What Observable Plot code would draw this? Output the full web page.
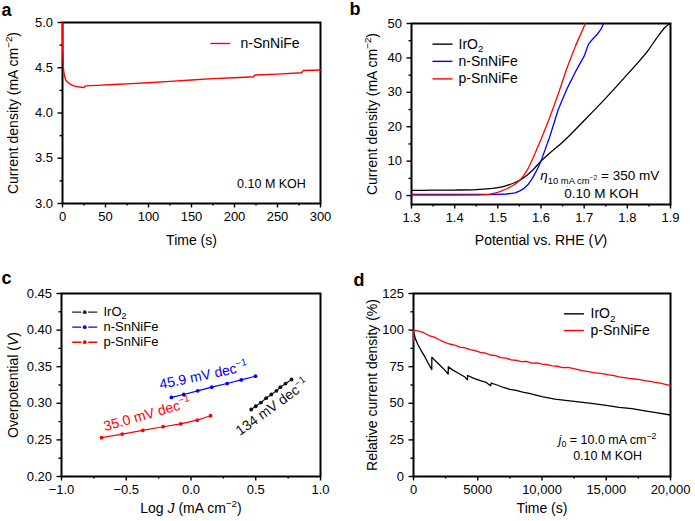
<!DOCTYPE html>
<html><head><meta charset="utf-8">
<script src="https://cdn.jsdelivr.net/npm/d3@7"></script>
<script src="https://cdn.jsdelivr.net/npm/@observablehq/plot@0.6"></script>
<style>
body{margin:0;background:#fff;}
#wrap{position:relative;width:695px;height:521px;background:#fff;overflow:hidden;}
.panel{position:absolute;}
</style></head><body><div id="wrap"></div>
<script>
// ---------- DATA ----------
// Panel a: chronoamperometry n-SnNiFe
const A_time = [0,0.3,1,2,4,6,9,13,18,25,26,27,40,60,80,100,125,150,175,200,222,224,250,278,280,300];
const A_j    = [5.0,4.7,4.5,4.42,4.36,4.34,4.32,4.30,4.29,4.28,4.295,4.30,4.305,4.315,4.325,4.335,4.35,4.365,4.38,4.39,4.40,4.42,4.43,4.445,4.47,4.475];
// Panel b: polarization curves
const B_V_ir = [1.30,1.35,1.40,1.45,1.48,1.50,1.52,1.54,1.56,1.58,1.60,1.62,1.65,1.70,1.75,1.80,1.85,1.875,1.89,1.90];
const B_J_ir = [1.5,1.55,1.6,1.75,2.0,2.3,2.9,3.8,5.2,7.3,10.0,12.3,15.5,21.8,28.3,35.2,42.5,47.0,49.2,50];
const B_V_n  = [1.30,1.45,1.50,1.52,1.54,1.55,1.56,1.57,1.58,1.59,1.60,1.62,1.64,1.66,1.68,1.70,1.71,1.72,1.73,1.74,1.745];
const B_J_n  = [0.3,0.3,0.35,0.45,0.8,1.3,2.0,3.2,5.0,7.3,10.0,17.0,25.0,31.0,36.0,40.5,44.0,45.5,46.8,48.6,50];
const B_V_p  = [1.30,1.40,1.46,1.48,1.50,1.52,1.54,1.55,1.56,1.57,1.58,1.60,1.62,1.64,1.66,1.68,1.70,1.703];
const B_J_p  = [0.1,0.12,0.2,0.35,0.9,1.9,3.3,4.3,5.8,7.8,10.5,16.3,22.6,29.5,37.0,43.5,49.2,50];
// Panel c: Tafel
const C_logJ_ir = [0.465,0.50,0.54,0.58,0.62,0.66,0.69,0.73,0.776];
const C_eta_ir  = [0.2915,0.296,0.301,0.307,0.312,0.317,0.322,0.327,0.3325];
const C_logJ_n  = [-0.151,-0.056,0.052,0.160,0.279,0.388,0.498];
const C_eta_n   = [0.308,0.312,0.317,0.322,0.327,0.332,0.337];
const C_logJ_p  = [-0.691,-0.531,-0.373,-0.215,-0.079,0.048,0.151];
const C_eta_p   = [0.253,0.258,0.263,0.268,0.272,0.277,0.283];
// Panel d: stability
const D_t_ir = [0,150,350,600,900,1200,1420,1430,1700,2000,2400,2700,2710,3000,3500,4000,4200,4210,4700,5200,5600,6000,6050,6500,7000,7500,8000,8500,9000,10000,11000,12000,13000,14000,15000,16000,17000,18000,19000,20000];
const D_r_ir = [99,94,90,86,81.5,76.5,73,81.5,79,76.5,73,70,75,73,70.5,68,66,69,67,65.5,64.5,62,63.8,62.5,60.8,59.5,58.8,57.7,56.8,54.5,52.8,51.8,50.8,49.8,48.6,47.2,46.3,44.8,43.4,42];
const D_t_p = [0,0,400,800,1200,1600,2000,2400,2800,3200,3600,4000,4400,4800,5200,5600,6000,6400,6800,7200,7600,8000,8400,8800,9200,9600,10000,10400,10800,11200,11600,12000,12400,12800,13200,13600,14000,14400,14800,15200,15600,16000,16400,16800,17200,17600,18000,18400,18800,19200,19600,20000];
const D_r_p = [92,100,99.3,98.2,96.3,95.2,93.4,91.8,90.5,89.7,88.4,87.9,86.6,86.0,84.8,84.3,83.0,82.6,81.2,80.9,79.6,79.4,78.4,78.6,77.5,77.6,76.8,76.4,75.6,75.3,74.4,74.6,73.8,73.0,72.2,71.7,71.0,70.6,70.1,69.4,68.9,68.1,67.6,67.0,66.6,66.2,65.5,65.0,64.3,63.8,62.9,62.0];

// Tick values
const A_xMaj = [0,50,100,150,200,250,300], A_xMin = [25,75,125,175,225,275];
const A_yMaj = [3.0,3.5,4.0,4.5,5.0], A_yMin = [3.25,3.75,4.25,4.75];
const B_xMaj = [1.3,1.4,1.5,1.6,1.7,1.8,1.9], B_xMin = [1.35,1.45,1.55,1.65,1.75,1.85];
const B_yMaj = [0,10,20,30,40,50], B_yMin = [5,15,25,35,45];
const C_xMaj = [-1.0,-0.5,0.0,0.5,1.0], C_xMin = [-0.75,-0.25,0.25,0.75];
const C_yMaj = [0.20,0.25,0.30,0.35,0.40,0.45], C_yMin = [0.225,0.275,0.325,0.375,0.425];
const D_xMaj = [0,5000,10000,15000,20000], D_xMin = [2500,7500,12500,17500];
const D_yMaj = [0,25,50,75,100,125], D_yMin = [12.5,37.5,62.5,87.5,112.5];

// Series names / colours
const RED = "#ff0000", BLUE = "#0000ff", BLACK = "#000000";
const names = ["IrO_{2}", "n-SnNiFe", "p-SnNiFe"];

// ---------- helpers ----------
const FONT = '"Liberation Sans", Arial, Helvetica, sans-serif';
function axes(xMaj, xMin, xFmt, yMaj, yMin, yFmt) {
  const common = {strokeWidth: 1.4, label: null, fontSize: 13};
  return [
    Plot.axisX({...common, ticks: xMaj, tickFormat: xFmt, tickSize: 4.5, tickPadding: 4}),
    Plot.axisX({...common, ticks: xMin, tickFormat: () => "", tickSize: 2.5}),
    Plot.axisY({...common, ticks: yMaj, tickFormat: yFmt, tickSize: 4.5, tickPadding: 5}),
    Plot.axisY({...common, ticks: yMin, tickFormat: () => "", tickSize: 2.5}),
    Plot.frame({strokeWidth: 2, stroke: "black"})
  ];
}
function label(txt, opts) {
  return Plot.text([txt], {text: d => d, fill: "black", textAnchor: "middle", lineAnchor: "middle", ...opts});
}

function parseMarkup(s) {
  const segs = [], stack = [{shift: 0, scale: 1}];
  let italic = false, buf = "";
  const flush = () => { if (buf) { const t = stack[stack.length-1]; segs.push({text: buf, shift: t.shift, scale: t.scale, italic}); buf = ""; } };
  for (let i = 0; i < s.length; i++) {
    const c = s[i];
    if ((c === "^" || c === "_") && s[i+1] === "{") {
      flush(); const t = stack[stack.length-1];
      stack.push({shift: t.shift + (c === "^" ? -0.42 : 0.24) * t.scale, scale: t.scale * 0.7}); i++;
    } else if (c === "}") { flush(); stack.pop(); }
    else if (c === "*") { flush(); italic = !italic; }
    else buf += c;
  }
  flush();
  return segs;
}
function applyMarkup(svg) {
  svg.querySelectorAll("text").forEach(t => {
    const s = t.textContent;
    if (!/[\^_*]/.test(s) || t.querySelector("tspan")) return;
    const fs = parseFloat(getComputedStyle(t).fontSize);
    const segs = parseMarkup(s);
    t.textContent = "";
    let prev = 0;
    for (const sg of segs) {
      const ts = document.createElementNS("http://www.w3.org/2000/svg", "tspan");
      ts.textContent = sg.text;
      ts.setAttribute("font-size", (fs * sg.scale).toFixed(2) + "px");
      const dy = (sg.shift - prev) * fs;
      if (Math.abs(dy) > 1e-6) ts.setAttribute("dy", dy.toFixed(2));
      prev = sg.shift;
      if (sg.italic) ts.setAttribute("font-style", "italic");
      t.appendChild(ts);
    }
  });
}
const wrap = document.getElementById("wrap");
function panel(pos, opts) {
  const svg = Plot.plot({
    width: pos.width, height: pos.height,
    marginLeft: pos.ml, marginRight: pos.mr, marginTop: pos.mt, marginBottom: pos.mb,
    style: {fontFamily: FONT, fontSize: "13px", color: "black", background: "white", overflow: "visible"},
    ...opts
  });
  const div = document.createElement("div");
  div.className = "panel";
  div.style.left = pos.left + "px"; div.style.top = pos.top + "px";
  div.appendChild(svg);
  wrap.appendChild(div);
  applyMarkup(svg);
}
const f1 = d3.format(".1f"), f2 = d3.format(".2f");
const fBig = d => d >= 10000 ? d3.format(",")(d) : String(d);

// ---------- Panel a ----------
panel({left: 0, top: 0, width: 347, height: 260, ml: 62, mr: 27, mt: 22, mb: 57}, {
  x: {domain: [0, 300]}, y: {domain: [3, 5]},
  marks: [
    ...axes(A_xMaj, A_xMin, d => String(d), A_yMaj, A_yMin, f1),
    Plot.line(A_time, {x: A_time, y: A_j, stroke: RED, strokeWidth: 1.4}),
    Plot.link([names[1]], {x1: 172, x2: 195, y1: 4.768, y2: 4.768, stroke: RED, strokeWidth: 1.4}),
    Plot.text([names[1]], {x: 207, y: 4.768, text: d => d, textAnchor: "start", fontSize: 14}),
    Plot.text(["0.10 M KOH"], {x: 243, y: 3.21, text: d => d, fontSize: 12.5}),
    label("Current density (mA cm^{−2})", {frameAnchor: "left", dx: -49, rotate: -90, fontSize: 14}),
    label("Time (s)", {frameAnchor: "bottom", dy: 37, fontSize: 14}),
    label("a", {frameAnchor: "top-left", dx: -61, dy: -12, textAnchor: "start", fontSize: 18, fontWeight: "bold"})
  ]
});

// ---------- Panel b ----------
panel({left: 347, top: 0, width: 348, height: 260, ml: 64, mr: 25, mt: 23, mb: 56}, {
  x: {domain: [1.3, 1.9]}, y: {domain: [-2.6, 50]},
  marks: [
    ...axes(B_xMaj, B_xMin, f1, B_yMaj, B_yMin, d => String(d)),
    Plot.line(B_V_ir, {x: B_V_ir, y: B_J_ir, stroke: BLACK, strokeWidth: 1.3, curve: "monotone-x"}),
    Plot.line(B_V_n, {x: B_V_n, y: B_J_n, stroke: BLUE, strokeWidth: 1.3}),
    Plot.line(B_V_p, {x: B_V_p, y: B_J_p, stroke: RED, strokeWidth: 1.3}),
    Plot.link(names, {x1: 1.3486, x2: 1.395, y1: [44.0, 39.0, 33.9], y2: [44.0, 39.0, 33.9], stroke: [BLACK, BLUE, RED], strokeWidth: 1.4}),
    Plot.text(names, {x: 1.409, y: [44.0, 39.0, 33.9], text: d => d, textAnchor: "start", fontSize: 14}),
    Plot.text(["*η*_{10 mA cm^{−2}} = 350 mV"], {x: 1.736, y: 5.7, text: d => d, fontSize: 13.5}),
    Plot.text(["0.10 M KOH"], {x: 1.74, y: 0.6, text: d => d, fontSize: 13.5}),
    label("Current density (mA cm^{−2})", {frameAnchor: "left", dx: -39, rotate: -90, fontSize: 14}),
    label("Potential vs. RHE (*V*)", {frameAnchor: "bottom", dy: 36, fontSize: 14}),
    label("b", {frameAnchor: "top-left", dx: -62, dy: -14, textAnchor: "start", fontSize: 18, fontWeight: "bold"})
  ]
});

// ---------- Panel c ----------
const legC_y = [0.4245, 0.404, 0.3835], legC_c = ["#222", BLUE, RED];
panel({left: 0, top: 260, width: 347, height: 261, ml: 61, mr: 27, mt: 33, mb: 45}, {
  x: {domain: [-1, 1]}, y: {domain: [0.20, 0.45]},
  marks: [
    ...axes(C_xMaj, C_xMin, f1, C_yMaj, C_yMin, f2),
    Plot.line(C_logJ_ir, {x: C_logJ_ir, y: C_eta_ir, stroke: "#222", strokeWidth: 1.2}),
    Plot.dot(C_logJ_ir, {x: C_logJ_ir, y: C_eta_ir, fill: "#111", r: 1.9}),
    Plot.line(C_logJ_n, {x: C_logJ_n, y: C_eta_n, stroke: BLUE, strokeWidth: 1.2}),
    Plot.dot(C_logJ_n, {x: C_logJ_n, y: C_eta_n, fill: BLUE, r: 1.9}),
    Plot.line(C_logJ_p, {x: C_logJ_p, y: C_eta_p, stroke: RED, strokeWidth: 1.2}),
    Plot.dot(C_logJ_p, {x: C_logJ_p, y: C_eta_p, fill: RED, r: 1.9}),
    Plot.link(names, {x1: -0.917, x2: -0.724, y1: legC_y, y2: legC_y, stroke: legC_c, strokeWidth: 1.4, strokeDasharray: "9,7"}),
    Plot.dot(names, {x: -0.8205, y: legC_y, fill: legC_c, r: 1.9}),
    Plot.text(names, {x: -0.676, y: legC_y, text: d => d, textAnchor: "start", fontSize: 13}),
    Plot.text(["45.9 mV dec^{−1}"], {x: 0.097, y: 0.338, text: d => d, fill: BLUE, rotate: -12, fontSize: 14}),
    Plot.text(["35.0 mV dec^{−1}"], {x: -0.338, y: 0.2847, text: d => d, fill: RED, rotate: -16, fontSize: 14}),
    Plot.text(["134 mV dec^{−1}"], {x: 0.627, y: 0.2947, text: d => d, fill: "#111", rotate: -36, fontSize: 14}),
    label("Overpotential (*V*)", {frameAnchor: "left", dx: -48, rotate: -90, fontSize: 14}),
    label("Log *J* (mA cm^{−2})", {frameAnchor: "bottom", dy: 32, fontSize: 14}),
    label("c", {frameAnchor: "top-left", dx: -60, dy: -15, textAnchor: "start", fontSize: 18, fontWeight: "bold"})
  ]
});

// ---------- Panel d ----------
const legD_y = [111.1, 99.7];
panel({left: 347, top: 260, width: 348, height: 261, ml: 66, mr: 25, mt: 33, mb: 45}, {
  x: {domain: [0, 20000]}, y: {domain: [0, 125]},
  marks: [
    ...axes(D_xMaj, D_xMin, fBig, D_yMaj, D_yMin, d => String(d)),
    Plot.line(D_t_ir, {x: D_t_ir, y: D_r_ir, stroke: BLACK, strokeWidth: 1.3}),
    Plot.line(D_t_p, {x: D_t_p, y: D_r_p, stroke: RED, strokeWidth: 1.3}),
    Plot.link([names[0], names[2]], {x1: 11706, x2: 13260, y1: legD_y, y2: legD_y, stroke: [BLACK, RED], strokeWidth: 1.4}),
    Plot.text([names[0], names[2]], {x: 13780, y: legD_y, text: d => d, textAnchor: "start", fontSize: 14}),
    Plot.text(["*j*_{0} = 10.0 mA cm^{−2}"], {x: 15100, y: 24.6, text: d => d, fontSize: 12.5}),
    Plot.text(["0.10 M KOH"], {x: 15100, y: 14.3, text: d => d, fontSize: 12.5}),
    label("Relative current density (%)", {frameAnchor: "left", dx: -41, rotate: -90, fontSize: 14}),
    label("Time (s)", {frameAnchor: "bottom", dy: 32, fontSize: 14}),
    label("d", {frameAnchor: "top-left", dx: -60, dy: -13, textAnchor: "start", fontSize: 18, fontWeight: "bold"})
  ]
});
</script></body></html>
